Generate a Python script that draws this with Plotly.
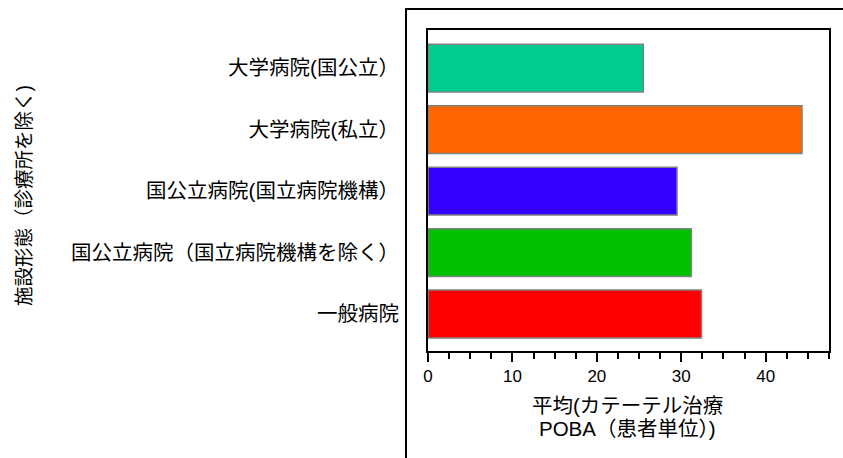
import plotly.graph_objects as go

categories = [
    "一般病院",
    "国公立病院（国立病院機構を除く）",
    "国公立病院(国立病院機構）",
    "大学病院(私立）",
    "大学病院(国公立）",
]
values = [32.4, 31.2, 29.5, 44.3, 25.5]
colors = ["#FF0000", "#00C000", "#3300FF", "#FF6600", "#00CC90"]

x_title_lines = ["平均(カテーテル治療", "POBA（患者単位）)"]
y_title = "施設形態（診療所を除く)"

W, H = 843, 458
L, R, T, B = 428, 14, 30, 107
pw, ph = W - L - R, H - T - B

def px_x(p):
    return (p - L) / pw

def px_y(p):
    return (H - B - p) / ph

FONT = "Liberation Sans, Arial, Noto Sans CJK JP, sans-serif"

fig = go.Figure(go.Bar(
    y=categories, x=values, orientation="h",
    marker=dict(color=colors, line=dict(color="#808080", width=1.5)),
    width=0.78,
))

fig.update_layout(
    width=W, height=H,
    margin=dict(l=L, r=R, t=T, b=B, pad=0),
    paper_bgcolor="white", plot_bgcolor="white",
    showlegend=False,
    font=dict(family=FONT, size=17, color="black"),
    xaxis=dict(
        range=[0, 47.5], tick0=0, dtick=10,
        ticks="outside", ticklen=9, tickwidth=1.5, tickcolor="black",
        minor=dict(dtick=2.5, ticks="outside", ticklen=6, tickwidth=1.5, tickcolor="black"),
        showline=True, linecolor="black", linewidth=2, mirror=True,
        showgrid=False, zeroline=False,
        tickfont=dict(size=17, family=FONT),
    ),
    yaxis=dict(
        type="category", categoryorder="array", categoryarray=categories,
        range=[-0.6, 4.62],
        ticks="outside", ticklen=23, tickcolor="rgba(0,0,0,0)",
        showline=True, linecolor="black", linewidth=2, mirror=True,
        showgrid=False, zeroline=False,
        tickfont=dict(size=20.5, family=FONT),
    ),
    annotations=[
        dict(text=x_title_lines[0], xref="paper", yref="paper", x=0.497, y=px_y(405),
             xanchor="center", yanchor="middle", showarrow=False,
             font=dict(size=20.5, family=FONT)),
        dict(text=x_title_lines[1], xref="paper", yref="paper", x=0.497, y=px_y(428.5),
             xanchor="center", yanchor="middle", showarrow=False,
             font=dict(size=20.5, family=FONT)),
        dict(text=y_title, xref="paper", yref="paper", x=px_x(24), y=px_y(195),
             xanchor="center", yanchor="middle", showarrow=False, textangle=-90,
             font=dict(size=19.5, family=FONT)),
    ],
    shapes=[
        dict(type="path", xref="paper", yref="paper",
             path=f"M {px_x(406)},{px_y(480)} L {px_x(406)},{px_y(9)} L {px_x(870)},{px_y(9)}",
             line=dict(color="black", width=2)),
    ],
)

fig.write_html("out.html", config={"displayModeBar": False},
               post_script="document.body.style.margin='0';document.body.style.overflow='hidden';")
